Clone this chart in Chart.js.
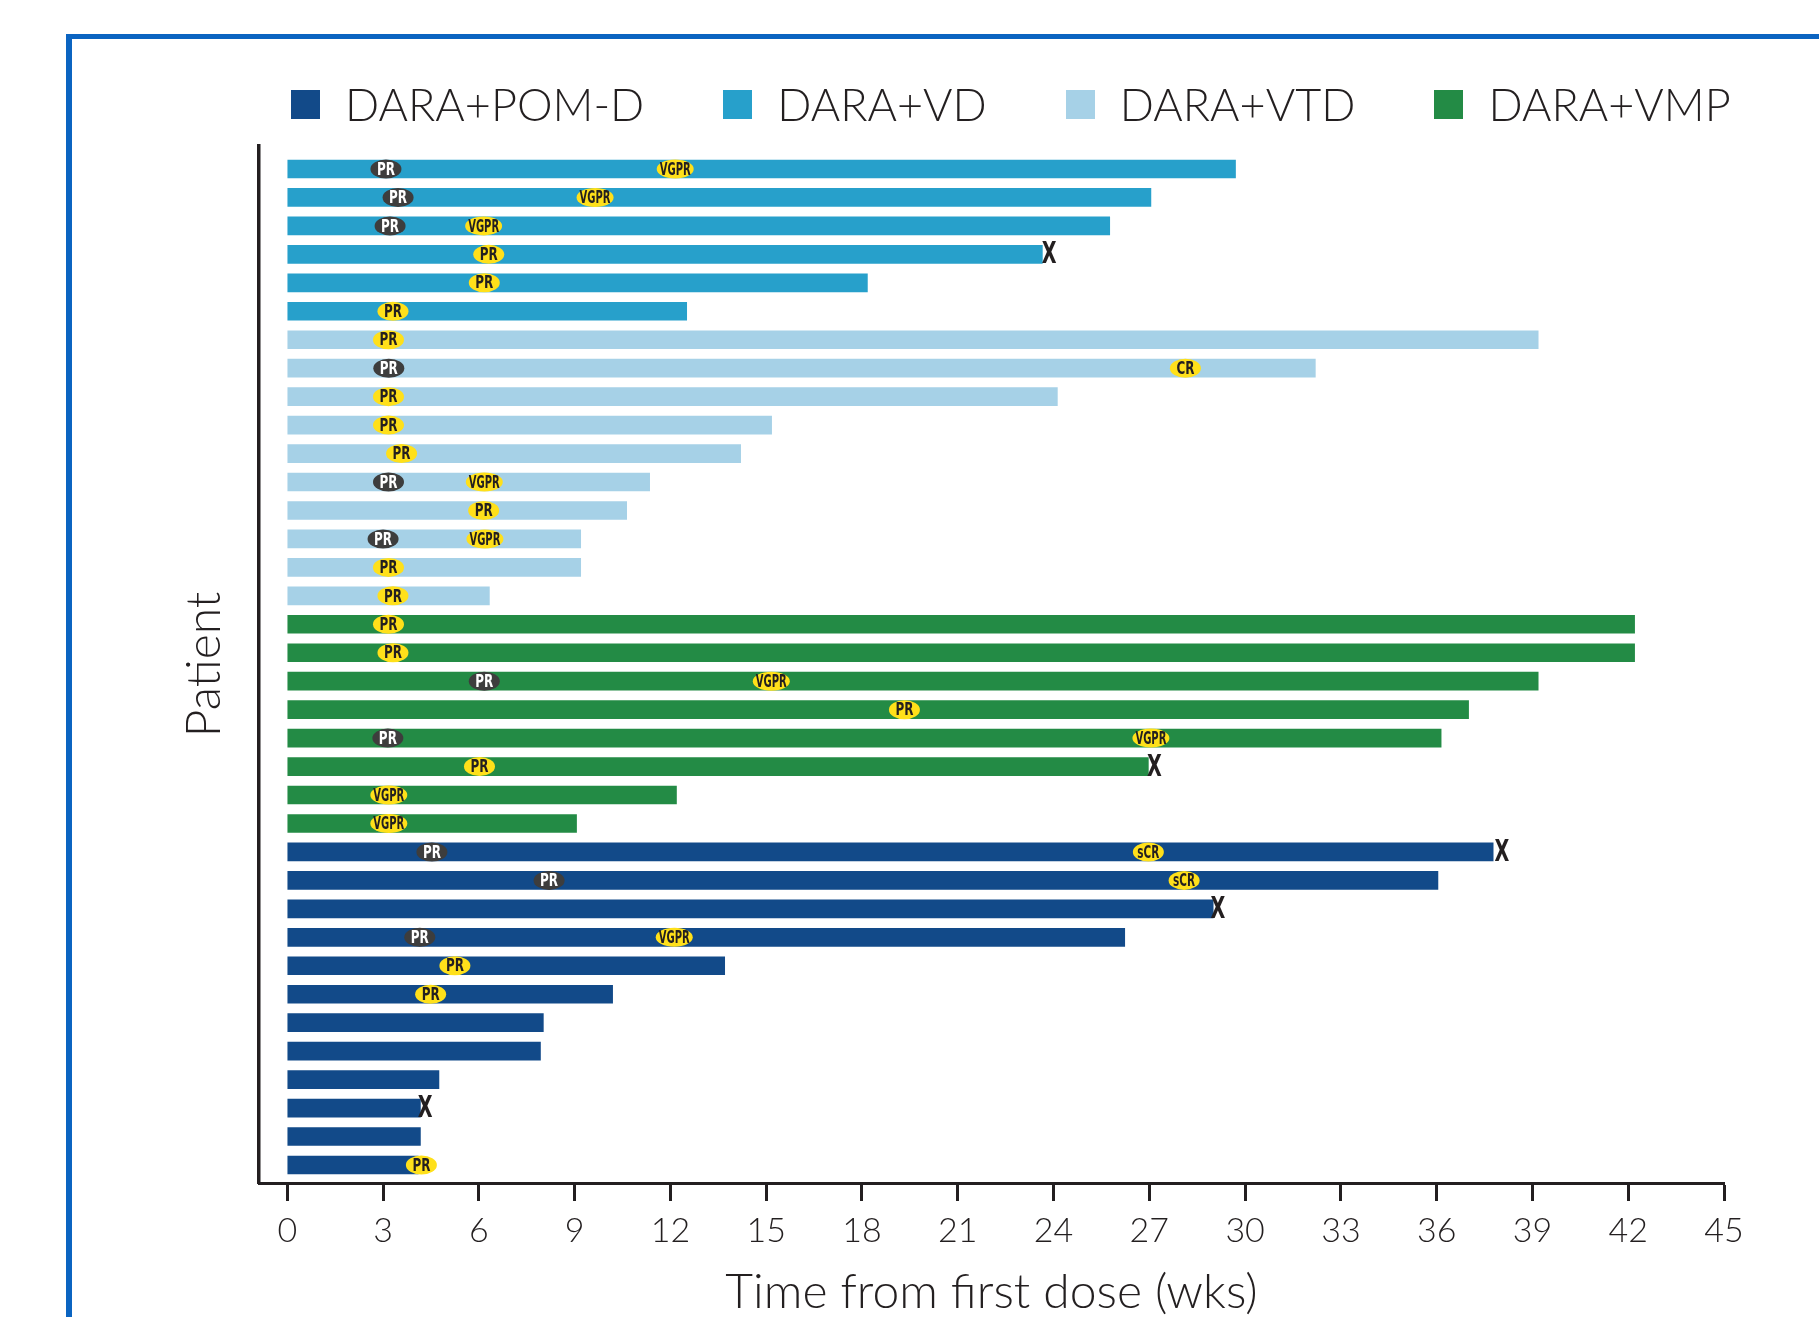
<!DOCTYPE html>
<html>
<head>
<meta charset="utf-8">
<title>Time on treatment by patient</title>
<script src="https://cdn.jsdelivr.net/npm/chart.js@4.4.1/dist/chart.umd.min.js"></script>
<style>
  html, body { margin: 0; padding: 0; background: #fff; overflow: hidden; }
  body { width: 1819px; height: 1317px; position: relative; font-family: Lato, sans-serif; }
  .frame { position: absolute; left: 66px; top: 34px; right: -20px; bottom: -20px;
           border-top: 5px solid #0b64c1; border-left: 6px solid #0b64c1; }
  #chart { position: absolute; left: 0; top: 0; }
  #legend { position: absolute; left: 291px; top: 82px; display: flex; gap: 79px;
            margin: 0; padding: 0; list-style: none; }
  #legend li { display: flex; align-items: center; gap: 25px; height: 45px;
               font-size: 45px; line-height: 45px; font-weight: 300; color: #231f20; white-space: nowrap; }
  #legend .box { width: 29px; height: 29px; flex: none; }
</style>
</head>
<body>
<div class="frame"></div>
<canvas id="chart" width="1819" height="1317"></canvas>
<ul id="legend"></ul>
<script>
// Legend order; patients are listed top to bottom as VD, VTD, VMP, POM-D.
const regimens = ['DARA+POM-D', 'DARA+VD', 'DARA+VTD', 'DARA+VMP'];
const regimenColors = ['#124a89', '#27a0cb', '#a6d1e7', '#238b45'];

// Weeks on treatment, one value per patient (top to bottom inside each group)
const vdWeeks = [29.7, 27.05, 25.76, 23.65, 18.17, 12.51];
const vtdWeeks = [39.18, 32.2, 24.12, 15.17, 14.2, 11.35, 10.63, 9.19, 9.19, 6.33];
const vmpWeeks = [42.2, 42.2, 39.18, 37.0, 36.14, 26.97, 12.19, 9.06];
const pomdWeeks = [37.77, 36.04, 29.0, 26.23, 13.7, 10.19, 8.02, 7.93, 4.75, 4.17, 4.17, 4.1];

// Response markers: patient row (0 = top), week, label, 1 = first response (dark)
const responseRows = [0, 0, 1, 1, 2, 2, 3, 4, 5, 6, 7, 7, 8, 9, 10, 11, 11, 12, 13, 13, 14,
  15, 16, 17, 18, 18, 19, 20, 20, 21, 22, 23, 24, 24, 25, 25, 27, 27, 28, 29, 35];
const responseWeeks = [3.09, 12.15, 3.47, 9.64, 3.22, 6.15, 6.31, 6.17, 3.31, 3.17, 3.18, 28.13,
  3.17, 3.17, 3.58, 3.17, 6.17, 6.15, 3.0, 6.19, 3.17, 3.31, 3.17, 3.31, 6.17, 15.16, 19.33,
  3.15, 27.05, 6.02, 3.18, 3.18, 4.53, 26.97, 8.2, 28.09, 4.15, 12.12, 5.25, 4.49, 4.2];
const responseLabels = ['PR', 'VGPR', 'PR', 'VGPR', 'PR', 'VGPR', 'PR', 'PR', 'PR', 'PR', 'PR', 'CR',
  'PR', 'PR', 'PR', 'PR', 'VGPR', 'PR', 'PR', 'VGPR', 'PR', 'PR', 'PR', 'PR', 'PR', 'VGPR', 'PR',
  'PR', 'VGPR', 'PR', 'VGPR', 'VGPR', 'PR', 'sCR', 'PR', 'sCR', 'PR', 'VGPR', 'PR', 'PR', 'PR'];
const responseDark = [1, 0, 1, 0, 1, 0, 0, 0, 0, 0, 1, 0, 0, 0, 0, 1, 0, 0, 1, 0, 0,
  0, 0, 0, 1, 0, 0, 1, 0, 0, 0, 0, 1, 0, 1, 0, 1, 0, 0, 0, 0];

// Discontinuation marks (X)
const stopRows = [3, 21, 24, 26, 33];
const stopWeeks = [23.86, 27.16, 38.04, 29.15, 4.32];

const xTicks = [0, 3, 6, 9, 12, 15, 18, 21, 24, 27, 30, 33, 36, 39, 42, 45];

const inkColor = '#231f20';
const lightFont = { family: 'Lato', weight: 300 };

// first row of each group, in top-to-bottom order
const firstRowVd = 0;
const firstRowVtd = firstRowVd + vdWeeks.length;
const firstRowVmp = firstRowVtd + vtdWeeks.length;
const firstRowPomd = firstRowVmp + vmpWeeks.length;

function toBars(weeks, firstRow) {
  return weeks.map((w, i) => ({ x: [0, w], y: firstRow + i }));
}

const groupData = [
  toBars(pomdWeeks, firstRowPomd),
  toBars(vdWeeks, firstRowVd),
  toBars(vtdWeeks, firstRowVtd),
  toBars(vmpWeeks, firstRowVmp)
];

// Draw the response ovals and the X marks on top of the bars
const markerPlugin = {
  id: 'responseMarkers',
  afterDatasetsDraw(chart) {
    const { ctx, scales: { x, y } } = chart;
    ctx.save();
    ctx.textAlign = 'center';
    ctx.textBaseline = 'middle';
    responseRows.forEach((row, i) => {
      const px = x.getPixelForValue(responseWeeks[i]);
      const py = y.getPixelForValue(row);
      const label = responseLabels[i];
      const w = label === 'VGPR' ? 37 : 31;
      ctx.beginPath();
      ctx.ellipse(px, py, w / 2, 9.5, 0, 0, Math.PI * 2);
      ctx.fillStyle = responseDark[i] ? '#3d3d3d' : '#ffe01a';
      ctx.fill();
      ctx.fillStyle = responseDark[i] ? '#ffffff' : inkColor;
      ctx.font = 'bold 18px "DejaVu Sans"';
      const tw = ctx.measureText(label).width;
      const target = label === 'VGPR' ? 31 : label === 'sCR' ? 22 : 18;
      ctx.save();
      ctx.translate(px, py + 1);
      ctx.scale(target / tw, 1);
      ctx.fillText(label, 0, 0);
      ctx.restore();
    });
    ctx.font = 'bold 31px "DejaVu Sans"';
    ctx.fillStyle = inkColor;
    stopRows.forEach((row, i) => {
      const px = x.getPixelForValue(stopWeeks[i]);
      const py = y.getPixelForValue(row);
      ctx.save();
      ctx.translate(px, py + 1);
      ctx.scale(0.62, 1);
      ctx.fillText('X', 0, 0);
      ctx.restore();
    });
    ctx.restore();
  }
};

const chart = new Chart(document.getElementById('chart'), {
  type: 'bar',
  data: {
    datasets: regimens.map((name, i) => ({
      label: name,
      data: groupData[i],
      backgroundColor: regimenColors[i],
      borderWidth: 0
    }))
  },
  options: {
    indexAxis: 'y',
    responsive: false,
    animation: false,
    devicePixelRatio: 1,
    layout: { padding: { top: 146, right: 95, bottom: 0, left: 0 } },
    datasets: { bar: { barThickness: 18, grouped: false } },
    scales: {
      x: {
        type: 'linear',
        position: 'bottom',
        min: -0.886,
        max: 45,
        afterBuildTicks: (axis) => { axis.ticks = xTicks.map((v) => ({ value: v })); },
        afterFit: (axis) => { axis.height = 134; },
        grid: { drawOnChartArea: false, drawTicks: true, tickLength: 18, tickWidth: 3, tickColor: inkColor },
        border: { display: true, color: inkColor, width: 3 },
        ticks: { padding: 10, color: inkColor, font: { ...lightFont, size: 34 } },
        title: {
          display: true,
          text: 'Time from first dose (wks)',
          color: inkColor,
          font: { ...lightFont, size: 48, lineHeight: 1 },
          padding: { top: 0, bottom: 0 }
        }
      },
      y: {
        type: 'linear',
        reverse: true,
        offset: false,
        min: -0.808,
        max: 35.634,
        afterFit: (axis) => { axis.width = 259; },
        grid: { display: false, offset: false },
        ticks: { display: false },
        border: { display: true, color: inkColor, width: 3.5 },
        title: {
          display: true,
          text: 'Patient',
          color: inkColor,
          font: { ...lightFont, size: 48, lineHeight: 1 },
          padding: { top: 181, bottom: 0 }
        }
      }
    },
    plugins: {
      legend: { display: false },
      tooltip: { enabled: false }
    }
  },
  plugins: [markerPlugin]
});

// HTML legend built from the chart's own legend items
const legendList = document.getElementById('legend');
chart.options.plugins.legend.labels.generateLabels(chart).forEach((item) => {
  const li = document.createElement('li');
  const box = document.createElement('span');
  box.className = 'box';
  box.style.background = item.fillStyle;
  li.appendChild(box);
  li.appendChild(document.createTextNode(item.text));
  legendList.appendChild(li);
});
</script>
</body>
</html>
